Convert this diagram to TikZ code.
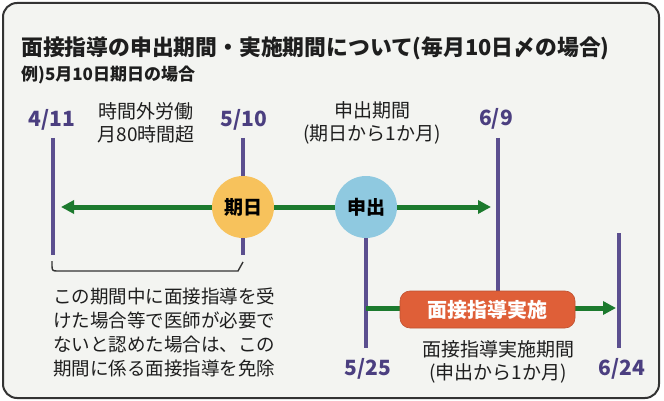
\documentclass[tikz,border=0pt]{standalone}
\usepackage{fontspec}
\setmainfont{Noto Sans CJK JP}
\usetikzlibrary{arrows.meta}
\definecolor{bgc}{HTML}{F3F4F1}
\definecolor{framec}{HTML}{333333}
\definecolor{purp}{HTML}{5B4F8F}
\definecolor{purptxt}{HTML}{4B3F80}
\definecolor{grn}{HTML}{1C7A2E}
\definecolor{yel}{HTML}{F7C25C}
\definecolor{blu}{HTML}{8FC9E0}
\definecolor{org}{HTML}{DF5F38}
\definecolor{txt}{HTML}{1E1E1E}
\begin{document}
\begin{tikzpicture}[x=1pt,y=-1pt,
  vline/.style={draw=purp,line width=4pt},
  garrow/.style={draw=grn,line width=5pt,-{Triangle[length=13pt,width=13pt]}},
  gline/.style={draw=grn,line width=5pt},
  datelbl/.style={text=purptxt,font=\fontsize{21}{24}\selectfont\bfseries,inner sep=0pt},
  lbl/.style={text=txt,font=\fontsize{19}{23}\selectfont,align=center,inner sep=0pt},
  circ/.style={circle,minimum size=62pt,inner sep=0pt,font=\fontsize{19}{22}\selectfont\bfseries,text=black},
]
\useasboundingbox (0,0) rectangle (664,401);
\fill[white] (0,0) rectangle (664,401);
\draw[framec,line width=2pt,fill=bgc,rounded corners=14pt] (3,3) rectangle (659,398);

% titles
\node[anchor=west,inner sep=0pt,text=txt,font=\fontsize{21.8}{24}\selectfont\bfseries] (title) at (21,48) {面接指導の申出期間・実施期間について(毎月10日〆の場合)};
\node[anchor=west,inner sep=0pt,text=txt,font=\fontsize{17}{20}\selectfont\bfseries] (sub) at (21,75) {例)5月10日期日の場合};

% coordinates for vertical lines
\coordinate (l1t) at (53,138); \coordinate (l1b) at (53,255);
\coordinate (l2t) at (243,138); \coordinate (l2b) at (243,255);
\coordinate (l3t) at (498,138); \coordinate (l3b) at (498,308);
\coordinate (l4t) at (366,238); \coordinate (l4b) at (366,348);
\coordinate (l5t) at (619,233); \coordinate (l5b) at (619,348);

\draw[vline] (l1t) -- (l1b);
\draw[vline] (l2t) -- (l2b);
\draw[vline] (l3t) -- (l3b);
\draw[vline] (l4t) -- (l4b);
\draw[vline] (l5t) -- (l5b);

% date labels
\node[datelbl] (d1) at (52,120) {4/11};
\node[datelbl] (d2) at (244,120) {5/10};
\node[datelbl] (d3) at (496,119) {6/9};
\node[datelbl] (d4) at (368,369) {5/25};
\node[datelbl] (d5) at (622,369) {6/24};

% circles
\node[circ,fill=yel] (kijitsu) at (243,207) {期日};
\node[circ,fill=blu] (moushi) at (366,207) {申出};

% arrows
\coordinate (tipL) at (61,207);
\coordinate (tipR) at (491,207);
\coordinate (lowS) at (366,308);
\coordinate (lowE) at (616,308);
\draw[garrow] (kijitsu.west) -- (tipL);
\draw[gline] (kijitsu.east) -- (moushi.west);
\draw[garrow] (moushi.east) -- (tipR);
\draw[garrow] (lowS) -- (lowE);

% implementation box
\node[fill=org,draw=org!85!black,line width=0.6pt,rounded corners=10pt,minimum width=175pt,minimum height=37pt,inner sep=0pt,text=white,font=\fontsize{20}{22}\selectfont\bfseries] (jisshi) at (487.5,309.5) {面接指導実施};

% labels
\node[lbl] (ot) at (146,123) {時間外労働\\月80時間超};
\node[lbl] (mk) at (372,123) {申出期間\\(期日から1か月)};
\node[lbl] (jk) at (498,362) {面接指導実施期間\\(申出から1か月)};

% bracket
\coordinate (b1) at (52,261);
\coordinate (b2) at (243,262);
\draw[framec,line width=1.4pt] (b1) -- (52,266) .. controls (52,271) and (53,271) .. (58,271) -- (238,271) -- (b2);

\node[anchor=north west,inner sep=0pt,text=txt,align=left,font=\fontsize{18.5}{24}\selectfont] (note) at (53,288) {この期間中に面接指導を受\\けた場合等で医師が必要で\\ないと認めた場合は、この\\期間に係る面接指導を免除};
\end{tikzpicture}
\end{document}
